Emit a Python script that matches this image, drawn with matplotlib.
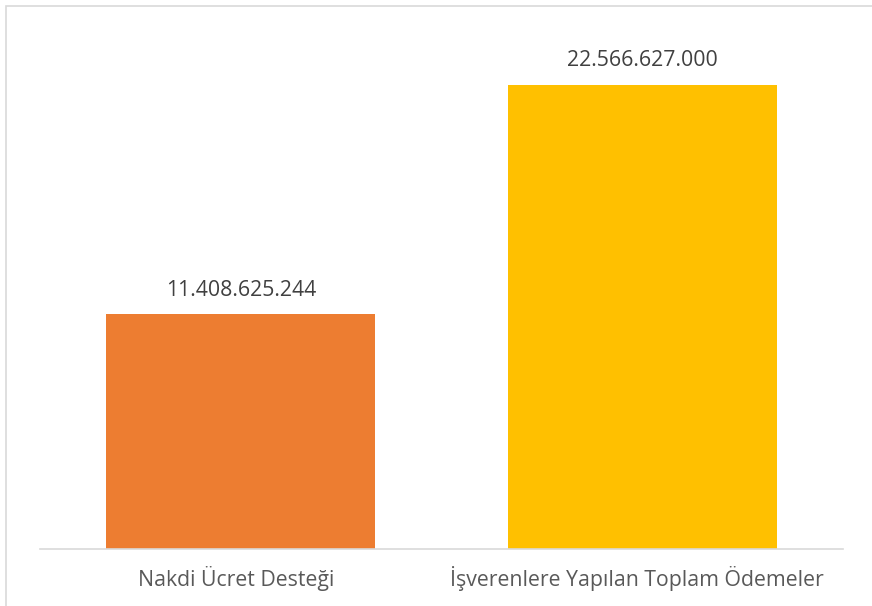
import matplotlib.pyplot as plt
import matplotlib.transforms as mtransforms
from matplotlib.patches import Rectangle

categories = ['Nakdi Ücret Desteği', 'İşverenlere Yapılan Toplam Ödemeler']
values = [11408625244, 22566627000]
colors = ['#ED7D31', '#FFC000']

plt.rcParams['font.family'] = ['Open Sans', 'DejaVu Sans']

fig = plt.figure(figsize=(8.72, 6.06), dpi=100)
W, H = 872, 606

# outer chart border (cropped on the right and bottom)
fig.patches.append(Rectangle((6 / W, -0.1), 1.1, (H - 6) / H + 0.1,
                             transform=fig.transFigure, fill=False,
                             edgecolor='#d9d9d9', linewidth=1.2))

ax = fig.add_axes([40 / W, (H - 549) / H, 803 / W, (549 - 35) / H])
x = range(len(categories))
bars = ax.bar(x, values, width=0.67, color=colors, zorder=2)
ax.set_xlim(-0.5, 1.5)
ax.set_ylim(0, 25e9)

for b, v in zip(bars, values):
    lbl = f'{v:,}'.replace(',', '.')
    ax.annotate(lbl, (b.get_x() + b.get_width() / 2, v), xytext=(0, 10),
                textcoords='offset points', ha='center', va='bottom',
                fontsize=15.3, color='#404040')

ax.set_xticks(list(x))
ax.set_xticklabels(categories, fontsize=15.3, color='#595959')
ax.tick_params(axis='x', length=0, pad=12)
shift = mtransforms.ScaledTranslation(-5 / 100, 0, fig.dpi_scale_trans)
for t in ax.get_xticklabels():
    t.set_transform(t.get_transform() + shift)
ax.set_yticks([])
for s in ['top', 'right', 'left']:
    ax.spines[s].set_visible(False)
ax.spines['bottom'].set_color('#d9d9d9')
ax.spines['bottom'].set_linewidth(1.2)

fig.savefig('out.png', dpi=100)
